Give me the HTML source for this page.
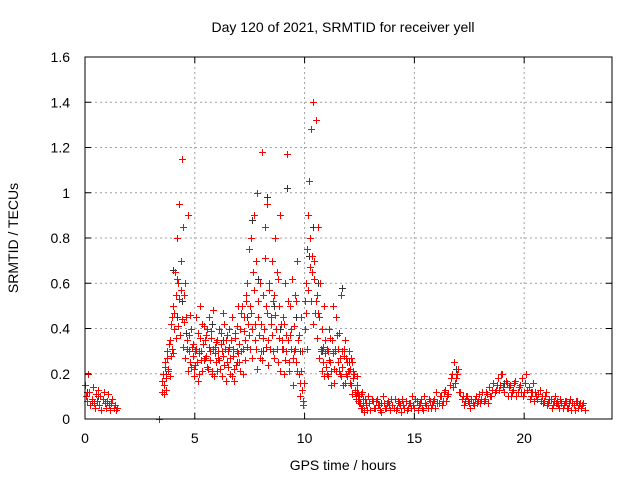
<!DOCTYPE html>
<html><head><meta charset="utf-8">
<style>
body{margin:0;background:#fff;}
svg{display:block;font-family:"Liberation Sans",sans-serif;}
</style></head>
<body>
<svg id="chart" width="640" height="480" viewBox="0 0 640 480">
<rect width="640" height="480" fill="#fff"/>
<g id="grid"></g>
<g id="marks"></g>
<g id="axes"></g>
<text x="343" y="32" font-size="14" text-anchor="middle">Day 120 of 2021, SRMTID for receiver yell</text>
<text x="18" y="238" font-size="14" text-anchor="middle" transform="rotate(-90 18 238)">SRMTID / TECUs</text>
<text x="343" y="470" font-size="14" text-anchor="middle">GPS time / hours</text>
</svg>
<script>
const xTicks=[0,5,10,15,20];
const yTicks=[0,0.2,0.4,0.6,0.8,1,1.2,1.4,1.6];
const yTickLabels=["0","0.2","0.4","0.6","0.8","1","1.2","1.4","1.6"];
const tA=[0,0.05,0.1,0.15,0.2,0.25,0.3,0.35,0.4,0.45,0.5,0.55,0.6,0.65,0.7,0.75,0.8,0.85,0.9,0.95,1.0,1.05,1.1,1.15,1.2,1.25,1.3,1.35,1.4,1.45,3.35];
const vA=[.15,.1,.08,.2,.12,.06,.09,.14,.07,.05,.11,.08,.13,.06,.1,.04,.09,.12,.07,.05,.08,.11,.06,.04,.07,.09,.05,.06,.04,.05,0];
const tBStart=3.5, tBStep=0.05;
const vB1=[.12,.2,.15,.25,.18,.3,.22,.35,.28,.45,
.5,.4,.65,.55,.8,.6,.95,.7,1.15,.85,
.55,.6,.45,.35,.9,.3,.25,.4,.28,.22,
.3,.45,.25,.38,.2,.5,.3,.42,.26,.35,
.28,.4,.22,.45,.3,.36,.2,.48,.32,.25,
.35,.3,.4,.22,.38,.3,.28,.42,.35,.25,
.3,.4,.2,.35,.45,.28,.22,.38,.3,.5,
.25,.4,.3,.5,.2,.45,.35,.55,.6,.75,
.5,.8,.4,.65,.9,.35,.7,1.0,.45,.6,
.3,1.18,.55,.4,.85,.5,.95,.35,.6,.45,
.7,.3,.55,.8,.4,.65,.25,.5,.9,.35,
.45,.2,.6,.3,1.17,.35,.25,.5,.4,.15,
.3,.55,.25,.7,.35,.2,.1,.45,.3,.08,
.4,.6,.75,.9,1.05,.8,1.28,.65,1.4,.7,
1.32,.55,.85,.45,.6,.3,.4,.25,.5,.35,
.2,.3,.4,.25,.15,.35,.5,.22,.3,.45,
.25,.38,.2,.55,.3,.15,.28,.35,.2,.25,
.3,.22,.15,.25,.18,.2,.12,.1,.15,.08,
.1,.05,.12,.07,.04,.09];
const vB2=[.17,.11,.23,.13,.27,.21,.33,.19,.42,.31,
.29,.47,.36,.62,.41,.53,.37,.57,.44,.32,
.43,.27,.31,.21,.37,.46,.23,.32,.33,.19,
.24,.31,.17,.29,.36,.26,.21,.33,.41,.27,
.37,.23,.32,.26,.39,.21,.31,.19,.29,.34,
.21,.27,.26,.33,.19,.47,.24,.31,.17,.37,
.23,.32,.27,.19,.31,.17,.36,.24,.41,.29,
.33,.21,.47,.31,.39,.26,.52,.32,.42,.37,
.31,.47,.27,.57,.42,.31,.22,.52,.37,.27,
.42,.26,.36,.71,.32,.47,.24,.57,.31,.42,
.37,.52,.27,.46,.31,.62,.36,.21,.42,.31,
.31,.42,.26,.37,.52,.21,.37,.31,.62,.27,
.41,.31,.52,.21,.37,.16,.21,.13,.06,.16,
.52,.47,.31,.57,.67,.52,.72,.42,.62,.47,
.52,.36,.47,.27,.31,.21,.32,.19,.29,.23,
.31,.19,.26,.36,.21,.29,.16,.31,.21,.37,
.31,.21,.27,.19,.23,.31,.16,.27,.19,.21,
.21,.16,.27,.11,.21,.13,.09,.19,.11,.07,
.07,.11,.05,.09,.03,.07];
const tCStart=12.8, tCStep=0.1;
const vC1=[.06,.1,.04,.08,.05,.09,.06,.03,.07,.05,
.08,.04,.06,.09,.05,.07,.03,.06,.08,.05,
.07,.1,.05,.08,.06,.09,.04,.07,.05,.08,
.06,.09,.12,.07,.1,.08,.13,.1,.15,.2,
.25,.18,.22,.12,.1,.08,.1,.07,.09,.06,
.1,.08,.07,.12,.09,.11,.14,.1,.16,.13,
.18,.15,.2,.12,.16,.14,.1,.13,.17,.12,
.15,.18,.12,.2,.14,.1,.16,.12,.09,.13,
.1,.08,.12,.07,.09,.06,.1,.08,.05,.07,
.06,.08,.05,.09,.07,.04,.08,.06,.05,.07];
const vC2=[.04,.07,.09,.05,.08,.06,.04,.1,.05,.07,
.06,.09,.05,.04,.08,.06,.09,.05,.04,.07,
.05,.06,.09,.04,.07,.05,.1,.06,.09,.05,
.08,.05,.07,.1,.06,.12,.08,.11,.18,.14,
.16,.2,.12,.09,.06,.1,.08,.05,.07,.09,
.07,.11,.09,.08,.12,.07,.1,.13,.12,.15,
.13,.2,.14,.17,.1,.15,.12,.16,.1,.14,
.12,.1,.16,.13,.09,.12,.08,.1,.11,.08,
.07,.1,.06,.09,.05,.08,.07,.06,.09,.05,
.08,.05,.07,.04,.06,.08,.05,.07,.06,.04];
const blackT=[0.1,0.3,0.6,3.7,4.0,4.2,4.4,4.6,5.2,5.8,6.3,6.9,7.4,7.6,7.9,8.1,8.3,8.6,8.9,9.2,9.6,9.8,10.2,10.4,10.6,10.8,11.3,11.7,12.0,12.4,13.5,15.2,16.9,19.1,20.3,21.5];
const blackV=[.12,.08,.1,.2,.66,.45,.52,.38,.3,.42,.35,.25,.45,.88,.62,.3,.98,.5,.4,1.02,.45,.3,.72,.85,.6,.3,.5,.58,.25,.12,.07,.06,.22,.16,.12,.07];

const X0=85,X1=612,Y0=419,Y1=57;
const xs=t=>X0+(t/24)*(X1-X0);
const ys=v=>Y0-(v/1.6)*(Y0-Y1);
const NS="http://www.w3.org/2000/svg";
const grid=document.getElementById('grid'),axes=document.getElementById('axes'),marks=document.getElementById('marks');
function mk(tag,attrs,parent){const e=document.createElementNS(NS,tag);for(const k in attrs)e.setAttribute(k,attrs[k]);parent.appendChild(e);return e;}
xTicks.forEach(t=>{
  const x=xs(t);
  if(t>0){const g=mk('line',{x1:x,y1:Y0,x2:x,y2:Y1,stroke:'#a0a0a0','stroke-dasharray':'2,3','stroke-width':1},grid);
  
  }
  mk('line',{x1:x,y1:Y0,x2:x,y2:Y0-6,stroke:'#000'},axes);
  mk('line',{x1:x,y1:Y1,x2:x,y2:Y1+6,stroke:'#000'},axes);
  const l=mk('text',{x:x,y:443,'font-size':14,'text-anchor':'middle'},axes);l.textContent=t;
  
  
});
yTicks.forEach((v,i)=>{
  const y=ys(v);
  if(v>0&&v<1.6){const g=mk('line',{x1:X0,y1:y,x2:X1,y2:y,stroke:'#a0a0a0','stroke-dasharray':'2,3','stroke-width':1},grid);
  
  }
  mk('line',{x1:X0,y1:y,x2:X0+6,y2:y,stroke:'#000'},axes);
  mk('line',{x1:X1,y1:y,x2:X1-6,y2:y,stroke:'#000'},axes);
  const l=mk('text',{x:70,y:y+5,'font-size':14,'text-anchor':'end'},axes);l.textContent=yTickLabels[i];
  
  
});
const fr=mk('rect',{x:X0,y:Y1,width:X1-X0,height:Y0-Y1,fill:'none',stroke:'#000'},axes);


function plus(t,v,col,name){
  const x=Math.round(xs(t))+0.5,y=Math.round(ys(v))+0.5;
  const p=mk('path',{d:`M${x-3.5},${y}H${x+3.5}M${x},${y-3.5}V${y+3.5}`,stroke:col,'stroke-width':1,fill:'none'},marks);
  
  
}
blackT.forEach((t,i)=>plus(t,blackV[i],'#333333','srmtid-point-black'));
tA.forEach((t,i)=>plus(t,vA[i],'#ff0000','srmtid-point'));
vB1.forEach((v,i)=>plus(tBStart+i*tBStep,v,'#ff0000','srmtid-point'));
vB2.forEach((v,i)=>plus(tBStart+i*tBStep+0.025,v,'#ff0000','srmtid-point'));
vC1.forEach((v,i)=>plus(tCStart+i*tCStep,v,'#ff0000','srmtid-point'));
vC2.forEach((v,i)=>plus(tCStart+i*tCStep+0.05,v,'#ff0000','srmtid-point'));
</script>
</body></html>
